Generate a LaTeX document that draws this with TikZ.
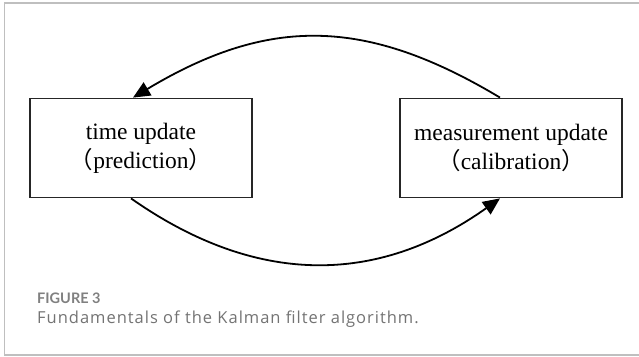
\documentclass[tikz,border=0pt]{standalone}
\usepackage{fontspec}
\setmainfont{Liberation Serif}
\newfontfamily\cjk{Noto Sans CJK SC}
\newfontfamily\capfont{Lato}
\newfontfamily\capwide[LetterSpace=6]{Open Sans}
\usetikzlibrary{arrows.meta}

\begin{document}
\begin{tikzpicture}[x=1pt,y=1pt,
  box/.style={draw=black!85,line width=1.8pt,minimum width=222pt,minimum height=99pt,
    align=center,font=\fontsize{23.5}{29}\selectfont},
  link/.style={line width=1.8pt,-{Triangle[length=17pt,width=15pt]}},
  frame/.style={line width=1.2pt,black!25}]
\useasboundingbox (0,0) rectangle (639,356);
\draw[frame] (639,353) -- (4.5,353) -- (4.5,1) -- (639,1);

\node[box] (time) at (141,208) {time update\\{\cjk （}prediction{\cjk ）}};
\node[box] (meas) at (511,208) {measurement update\\{\cjk （}calibration{\cjk ）}};

\draw[link] ([xshift=-11pt]meas.north) .. controls +(-135,81) and +(135,81) .. ([xshift=-8pt]time.north);
\draw[link] ([xshift=-10pt]time.south) .. controls +(124,-87) and +(-124,-88) .. ([xshift=-11pt]meas.south);

\node[anchor=base west,inner sep=0pt,text=black!50,font=\capfont\bfseries\fontsize{14.5}{17}\selectfont] (fig) at (37,53) {FIGURE 3};
\node[anchor=base west,inner sep=0pt,text=black!55,font=\capwide\fontsize{16.5}{20}\selectfont] (cap) at (37,33) {Fundamentals of the Kalman filter algorithm.};
\end{tikzpicture}
\end{document}
